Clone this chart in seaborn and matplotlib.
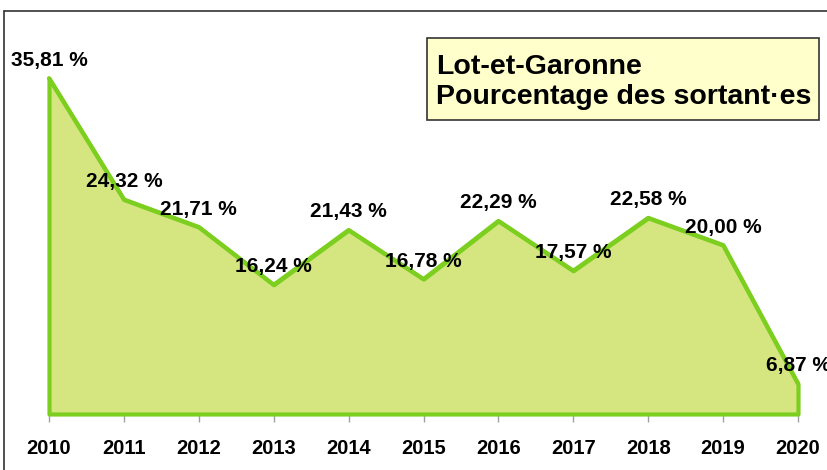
import matplotlib
matplotlib.use("Agg")
import matplotlib.pyplot as plt
from matplotlib.lines import Line2D
from matplotlib.patches import Rectangle
import seaborn as sns
import pandas as pd

# données
annees = [2010, 2011, 2012, 2013, 2014, 2015, 2016, 2017, 2018, 2019, 2020]
pourcentages = [35.81, 24.32, 21.71, 16.24, 21.43, 16.78, 22.29, 17.57, 22.58, 20.00, 6.87]
titre = "Lot-et-Garonne\nPourcentage des sortant·es"

sns.set_style("white")
plt.rcParams['font.family'] = ['Liberation Sans', 'DejaVu Sans']
plt.rcParams['text.color'] = 'black'
plt.rcParams['xtick.labelcolor'] = 'black'

df = pd.DataFrame({'annee': annees, 'pct': pourcentages})

vert = '#7ccf1f'
remplissage = '#d5e580'

fig = plt.figure(figsize=(8.27, 4.70), dpi=100)
ax = fig.add_axes([49 / 827, 56 / 470, 749 / 827, 380 / 470])

ymin = 4
ax.fill_between(df['annee'], df['pct'], ymin, facecolor=remplissage,
                edgecolor=vert, linewidth=3, zorder=2, clip_on=False)
sns.lineplot(data=df, x='annee', y='pct', color=vert, linewidth=3, ax=ax,
             zorder=3, clip_on=False)

# étiquettes de données
for a, v in zip(annees, pourcentages):
    ax.annotate(f"{v:.2f} %".replace('.', ','), (a, v), xytext=(0, 13),
                textcoords='offset points', ha='center', va='center',
                fontsize=15, fontweight='bold', color='black',
                annotation_clip=False, zorder=4)

ax.set_xlim(2010, 2020)
ax.set_ylim(ymin, 40)
ax.set_xticks(annees)
ax.set_xticklabels([str(a) for a in annees], fontsize=14.5, fontweight='bold', color='black')
ax.set_yticks([])
ax.tick_params(axis='x', length=6, width=1, color='#a0a0a0', pad=12, bottom=True)
ax.set_xlabel('')
ax.set_ylabel('')
for s in ax.spines.values():
    s.set_visible(False)
ax.patch.set_alpha(0)

# encadré du titre
fig.patches.append(Rectangle((427 / 827, 1 - 120 / 470), 392 / 827, 82 / 470,
                             transform=fig.transFigure, facecolor='#ffffcc',
                             edgecolor='#333333', linewidth=1.2, zorder=5))
fig.text(436 / 827, 1 - 82 / 470, titre, ha='left', va='center',
         fontsize=20.5, fontweight='bold', color='black', linespacing=1.15, zorder=6)

# cadre extérieur
fig.add_artist(Line2D([4 / 827, 4 / 827], [0, 1 - 11 / 470], transform=fig.transFigure,
                      color='#333333', linewidth=1.2))
fig.add_artist(Line2D([4 / 827, 1], [1 - 11 / 470, 1 - 11 / 470], transform=fig.transFigure,
                      color='#333333', linewidth=1.2))

fig.savefig('out.png', dpi=100)
plt.close(fig)
